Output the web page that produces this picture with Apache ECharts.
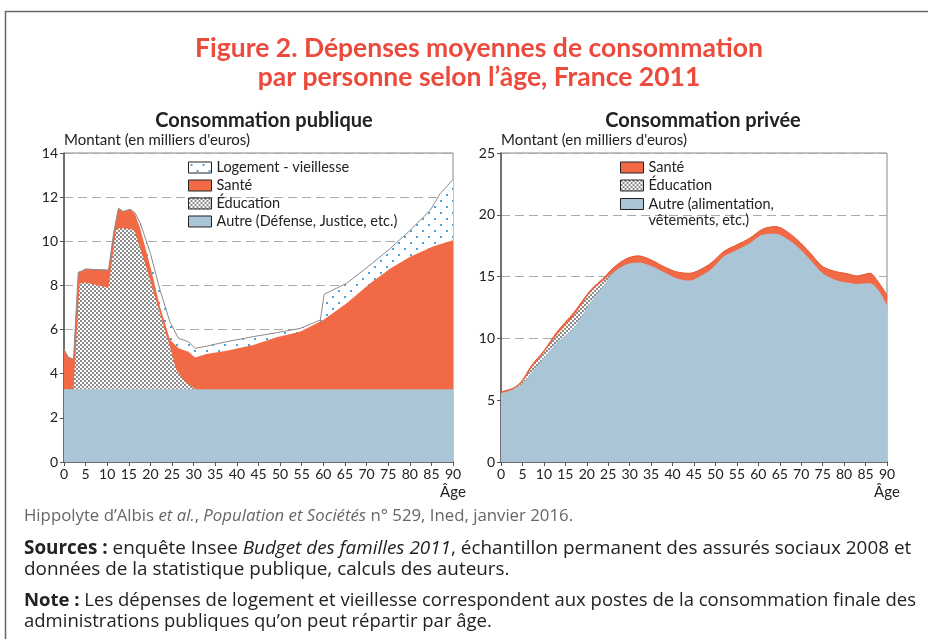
<!DOCTYPE html>
<html>
<head>
<meta charset="utf-8">
<script src="https://cdn.jsdelivr.net/npm/echarts@6/dist/echarts.min.js"></script>
<style>
  html, body { margin: 0; padding: 0; background: #fff; }
  #chart { width: 928px; height: 639px; }
</style>
</head>
<body>
<div id="chart"></div>
<script>
// --- Consommation publique (cumulated tops, en milliers d'euros) ---
const pubTotalAges = [0, 1, 2.2, 3.3, 4.1, 5, 7, 10.3, 11.5, 12.6, 13.7, 15.3, 16.4, 17.6, 20, 22.2, 24.5, 26.5, 28.8, 30.3, 33, 37.6, 43.8, 49.2, 54.6, 59.3, 60.2, 65.4, 70.8, 75.5, 80.1, 84.7, 87, 90];
const pubTotal     = [5.1, 4.75, 4.65, 8.6, 8.65, 8.75, 8.72, 8.7, 10.4, 11.5, 11.35, 11.45, 11.3, 10.85, 9.45, 7.8, 6.35, 5.6, 5.45, 5.15, 5.25, 5.45, 5.68, 5.86, 6.05, 6.43, 7.6, 8.1, 8.92, 9.68, 10.5, 11.4, 12.15, 12.8];

const pubSanteAges = [0, 1, 2.2, 3.3, 4.1, 5, 7, 10.3, 11.5, 12.6, 13.7, 15.3, 16.4, 17.6, 20, 22.2, 24.5, 26.5, 28.8, 30.3, 33, 37.6, 43.8, 49.2, 54.6, 60, 65.4, 70.8, 75.5, 80.1, 85.5, 90];
const pubSante     = [5.1, 4.75, 4.65, 8.6, 8.65, 8.75, 8.72, 8.7, 10.4, 11.5, 11.35, 11.45, 11.25, 10.6, 8.85, 7.05, 5.55, 5.15, 5.0, 4.74, 4.89, 5.04, 5.3, 5.65, 5.9, 6.43, 7.19, 8.09, 8.77, 9.3, 9.78, 10.05];

const pubEducAges = [0, 2.2, 3.6, 4.1, 5.2, 10.3, 12, 13, 15.7, 16.4, 19, 22.2, 24.5, 26, 28, 29.6, 30.4];
const pubEduc     = [3.3, 3.3, 8.05, 8.12, 8.12, 7.9, 10.5, 10.6, 10.55, 10.43, 8.85, 6.73, 5.22, 4.17, 3.64, 3.41, 3.3];

const pubAutreAges = [0, 90];
const pubAutre     = [3.3, 3.3];

// --- Consommation privée ---
const privAges  = [0, 3, 5, 7, 10, 13, 17, 21, 24, 26, 29, 32, 35, 38, 41, 44, 46, 49, 52, 55, 58, 61, 64, 66, 69, 72, 75, 78, 81, 83, 86, 88, 90];
const privSante = [5.68, 6.0, 6.62, 7.75, 9.0, 10.5, 12.1, 13.95, 14.9, 15.65, 16.41, 16.68, 16.35, 15.8, 15.38, 15.27, 15.49, 16.1, 17.05, 17.57, 18.11, 18.84, 19.05, 18.8, 18.0, 16.95, 15.81, 15.41, 15.22, 15.05, 15.27, 14.55, 13.5];
const privAutre = [5.54, 5.9, 6.35, 7.2, 8.45, 9.65, 10.9, 13.0, 14.3, 15.25, 15.95, 16.14, 15.86, 15.35, 14.85, 14.68, 14.95, 15.6, 16.65, 17.16, 17.7, 18.38, 18.46, 18.2, 17.45, 16.41, 15.27, 14.73, 14.5, 14.41, 14.46, 13.9, 12.7];
const privEducAges = [0, 3, 5, 7, 10, 13, 17, 21, 24, 26, 29];
const privEduc     = [5.54, 5.9, 6.45, 7.55, 8.85, 10.25, 11.85, 13.8, 14.7, 15.3, 15.9];

const ageTicks = [0, 90, 5];
const pubYMax = 14, privYMax = 25;

const BLUE = '#a9c5d6', ORANGE = '#f26a45';
const FONT = 'Lato';
const BODY = 'Open Sans';

function pairs(xs, ys) { return xs.map((x, i) => [x, ys[i]]); }

// motifs
function checker() {
  const c = document.createElement('canvas');
  c.width = 4; c.height = 4;
  const g = c.getContext('2d');
  g.fillStyle = '#fff'; g.fillRect(0, 0, 4, 4);
  g.fillStyle = '#8c8c8c';
  g.fillRect(0, 0, 2, 2); g.fillRect(2, 2, 2, 2);
  return { image: c, repeat: 'repeat' };
}
function dots() {
  const c = document.createElement('canvas');
  c.width = 12; c.height = 12;
  const g = c.getContext('2d');
  g.fillStyle = '#fff'; g.fillRect(0, 0, 12, 12);
  g.fillStyle = '#4aa3df';
  g.fillRect(2, 2, 2, 2); g.fillRect(8, 8, 2, 2);
  return { image: c, repeat: 'repeat' };
}
const CHECK = checker(), DOTS = dots();

function area(name, xi, data, fill, extra) {
  return Object.assign({
    name: name, type: 'line', xAxisIndex: xi, yAxisIndex: xi,
    data: data, showSymbol: false, symbol: 'none', silent: true,
    lineStyle: { width: 0 }, itemStyle: { color: fill },
    areaStyle: { color: fill, opacity: 1 }
  }, extra || {});
}

function xAxis(gi) {
  return {
    type: 'value', gridIndex: gi, min: ageTicks[0], max: ageTicks[1], interval: ageTicks[2],
    axisLine: { lineStyle: { color: '#555', width: 1.5 } },
    axisTick: { length: 4, lineStyle: { color: '#555' } },
    axisLabel: { color: '#222', fontSize: 14, fontFamily: FONT, margin: 5 },
    splitLine: { show: false }
  };
}
function yAxis(gi, max, step) {
  return {
    type: 'value', gridIndex: gi, min: 0, max: max, interval: step,
    name: "Montant (en milliers d'euros)", nameLocation: 'end', nameGap: 5,
    nameTextStyle: { align: 'left', color: '#222', fontSize: 15, fontFamily: FONT },
    axisLine: { show: true, lineStyle: { color: '#555', width: 1.5 } },
    axisTick: { show: true, length: 4, lineStyle: { color: '#555' } },
    axisLabel: { color: '#222', fontSize: 14, fontFamily: FONT, margin: 6 },
    splitLine: { show: true, lineStyle: { color: '#aaa', type: [9, 5], width: 1 } }
  };
}

const legendItem = (name, color) => ({ name: name, icon: 'rect', itemStyle: { color: color, borderColor: '#222', borderWidth: 1 } });
const legendBase = { orient: 'vertical', padding: 0, itemWidth: 23, itemHeight: 11, itemGap: 3, selectedMode: false,
  textStyle: { color: '#222', fontSize: 14.5, lineHeight: 15, fontFamily: FONT } };

const chart = echarts.init(document.getElementById('chart'));
chart.setOption({
  animation: false,
  title: [
    { text: 'Figure 2. Dépenses moyennes de consommation\npar personne selon l’âge, France 2011', left: 474, top: 29, textAlign: 'center',
      textStyle: { color: '#ec4a3c', fontSize: 26.5, fontWeight: 'bold', fontFamily: FONT, lineHeight: 29 } },
    { text: 'Consommation publique', left: 259, top: 106, textAlign: 'center',
      textStyle: { color: '#222', fontSize: 20, fontWeight: 'bold', fontFamily: FONT } },
    { text: 'Consommation privée', left: 698, top: 106, textAlign: 'center',
      textStyle: { color: '#222', fontSize: 20, fontWeight: 'bold', fontFamily: FONT } }
  ],
  grid: [
    { left: 64, top: 153, width: 389, height: 309, show: true, borderColor: '#888', borderWidth: 1 },
    { left: 501, top: 153, width: 386, height: 309, show: true, borderColor: '#888', borderWidth: 1 }
  ],
  xAxis: [xAxis(0), xAxis(1)],
  yAxis: [yAxis(0, pubYMax, 2), yAxis(1, privYMax, 5)],
  legend: [
    Object.assign({ left: 188, top: 160,
      data: [legendItem('Logement - vieillesse', DOTS), legendItem('Santé', ORANGE),
             legendItem('Éducation', CHECK), legendItem('Autre (Défense, Justice, etc.)', BLUE)] }, legendBase),
    Object.assign({ left: 620, top: 160,
      data: [legendItem('Santé ', ORANGE), legendItem('Éducation ', CHECK)] }, legendBase),
    Object.assign({ left: 620, top: 180, formatter: n => '\n' + n,
      data: [legendItem('Autre (alimentation,\nvêtements, etc.)', BLUE)] }, legendBase,
      { textStyle: { color: '#222', fontSize: 14.5, lineHeight: 16, fontFamily: FONT } })
  ],
  series: [
    area('Logement - vieillesse', 0, pairs(pubTotalAges, pubTotal), DOTS),
    area('Santé', 0, pairs(pubSanteAges, pubSante), ORANGE),
    area('Éducation', 0, pairs(pubEducAges, pubEduc), CHECK),
    area('Autre (Défense, Justice, etc.)', 0, pairs(pubAutreAges, pubAutre), BLUE),
    { name: 'contour', type: 'line', xAxisIndex: 0, yAxisIndex: 0, data: pairs(pubTotalAges, pubTotal),
      symbol: 'none', silent: true, lineStyle: { color: '#8a8a8a', width: 1 } },

    area('Santé ', 1, pairs(privAges, privSante), ORANGE, { smooth: 0.3, lineStyle: { color: '#e0552f', width: 1 } }),
    area('Éducation ', 1, pairs(privEducAges, privEduc), CHECK, { smooth: 0.3 }),
    area('Autre (alimentation,\nvêtements, etc.)', 1, pairs(privAges, privAutre), BLUE, { smooth: 0.3 })
  ],
  graphic: [
    { type: 'rect', shape: { x: 5.5, y: 11.5, width: 1000, height: 1000 }, style: { fill: 'none', stroke: '#666', lineWidth: 1.5 }, silent: true },
    { type: 'text', x: 453, y: 485, style: { text: 'Âge', align: 'center', fill: '#222', fontSize: 15, fontFamily: FONT } },
    { type: 'text', x: 887, y: 485, style: { text: 'Âge', align: 'center', fill: '#222', fontSize: 15, fontFamily: FONT } },
    { type: 'text', x: 24, y: 508, style: { text: 'Hippolyte d’Albis {i|et al.}, {i|Population et Sociétés} n° 529, Ined, janvier 2016.',
        fill: '#666', fontSize: 16.8, fontFamily: BODY, rich: { i: { fontStyle: 'italic', fill: '#666', fontSize: 16.8, fontFamily: BODY } } } },
    { type: 'text', x: 24, y: 538, style: { text: '{b|Sources :} enquête Insee {i|Budget des familles 2011}, échantillon permanent des assurés sociaux 2008 et\ndonnées de la statistique publique, calculs des auteurs.',
        fill: '#222', fontSize: 18.9, lineHeight: 21, fontFamily: BODY,
        rich: { b: { fontWeight: 'bold', fill: '#222', fontSize: 18.9, fontFamily: BODY, lineHeight: 21 }, i: { fontStyle: 'italic', fill: '#222', fontSize: 18.9, fontFamily: BODY, lineHeight: 21 } } } },
    { type: 'text', x: 24, y: 590, style: { text: '{b|Note :} Les dépenses de logement et vieillesse correspondent aux postes de la consommation finale des\nadministrations publiques qu’on peut répartir par âge.',
        fill: '#222', fontSize: 18.5, lineHeight: 21, fontFamily: BODY,
        rich: { b: { fontWeight: 'bold', fill: '#222', fontSize: 18.5, fontFamily: BODY, lineHeight: 21 } } } }
  ]
});
</script>
</body>
</html>
